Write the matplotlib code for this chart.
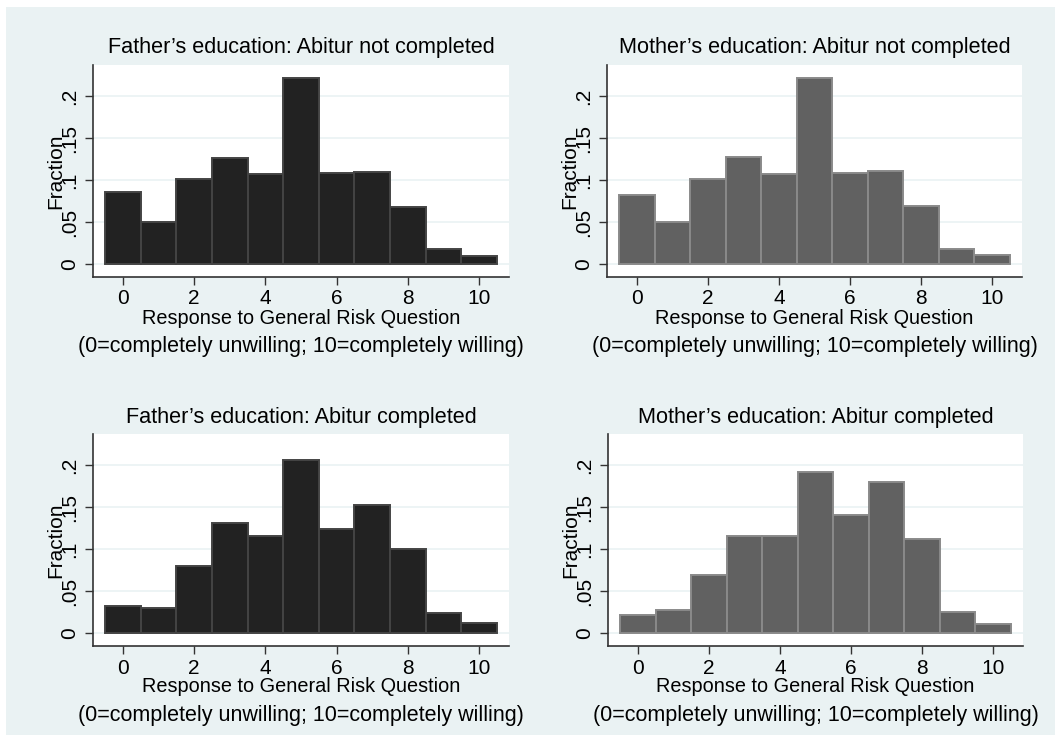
import numpy as np
import matplotlib
matplotlib.use("Agg")
import matplotlib.pyplot as plt
from matplotlib.patches import Rectangle

plt.rcParams['font.family'] = ['Liberation Sans', 'DejaVu Sans']

responses = np.arange(0, 11)

father_not = [0.0854, 0.0506, 0.1016, 0.1257, 0.1067, 0.2213, 0.1087, 0.1099, 0.0680, 0.0178, 0.0095]
mother_not = [0.0822, 0.0498, 0.1008, 0.1280, 0.1075, 0.2213, 0.1087, 0.1103, 0.0696, 0.0178, 0.0103]
father_yes = [0.0316, 0.0300, 0.0798, 0.1312, 0.1150, 0.2060, 0.1237, 0.1526, 0.0996, 0.0237, 0.0123]
mother_yes = [0.0217, 0.0269, 0.0688, 0.1158, 0.1150, 0.1920, 0.1400, 0.1800, 0.1123, 0.0253, 0.0107]

titles = ["Father\u2019s education: Abitur not completed",
          "Mother\u2019s education: Abitur not completed",
          "Father\u2019s education: Abitur completed",
          "Mother\u2019s education: Abitur completed"]
series = [father_not, mother_not, father_yes, mother_yes]

xlabel1 = "Response to General Risk Question"
xlabel2 = "(0=completely unwilling; 10=completely willing)"
yticks = [0, 0.05, 0.1, 0.15, 0.2]
yticklabels = ["0", ".05", ".1", ".15", ".2"]
xticks = [0, 2, 4, 6, 8, 10]

W, H = 1059, 738
bg = '#eaf2f3'
dark = ('#222222', '#444444')
grey = ('#616161', '#8a8a8a')
styles = [dark, grey, dark, grey]

# axes boxes in pixels: left, right, top, bottom
boxes = [(93, 509, 65, 277), (607, 1022, 65, 277),
         (93, 509, 434, 646), (608, 1023, 434, 646)]

fig = plt.figure(figsize=(W / 100, H / 100), dpi=100, facecolor='white')
fig.patches.append(Rectangle((6 / W, 3 / H), (W - 10) / W, (H - 10) / H,
                             transform=fig.transFigure, facecolor=bg,
                             edgecolor='none', zorder=-5))


def ftext(x, y, s, **kw):
    fig.text(x / W, 1 - y / H, s, ha='center', va='center', **kw)


for (l, r, t, b), vals, title, (fc, ec) in zip(boxes, series, titles, styles):
    ax = fig.add_axes([l / W, (H - b) / H, (r - l) / W, (b - t) / H])
    ax.set_facecolor('white')
    ax.bar(responses, vals, width=1.0, color=fc, edgecolor=ec, linewidth=1.4, zorder=2)
    ax.set_xlim(-0.84, 10.84)
    ax.set_ylim(-0.0155, 0.237)
    ax.set_yticks(yticks)
    ax.set_yticklabels(yticklabels, rotation=90, va='center')
    ax.set_xticks(xticks)
    ax.grid(axis='y', color=bg, linewidth=1.2, zorder=1)
    ax.grid(axis='x', visible=False)
    for s in ['top', 'right']:
        ax.spines[s].set_visible(False)
    for s in ['left', 'bottom']:
        ax.spines[s].set_color('#333333')
        ax.spines[s].set_linewidth(1.2)
    ax.tick_params(axis='both', length=6, width=1.0, color='#333333',
                   labelsize=15, labelcolor='black', pad=3)
    ax.tick_params(axis='y', pad=4)
    ax.set_ylabel("Fraction", fontsize=15, labelpad=-4)
    cx = (l + r) / 2
    ftext(cx, t - 17, title, fontsize=15.6)
    ftext(cx, b + 41, xlabel1, fontsize=14.3)
    ftext(cx, b + 70, xlabel2, fontsize=15.5)

fig.savefig("out.png", dpi=100, facecolor='white')
